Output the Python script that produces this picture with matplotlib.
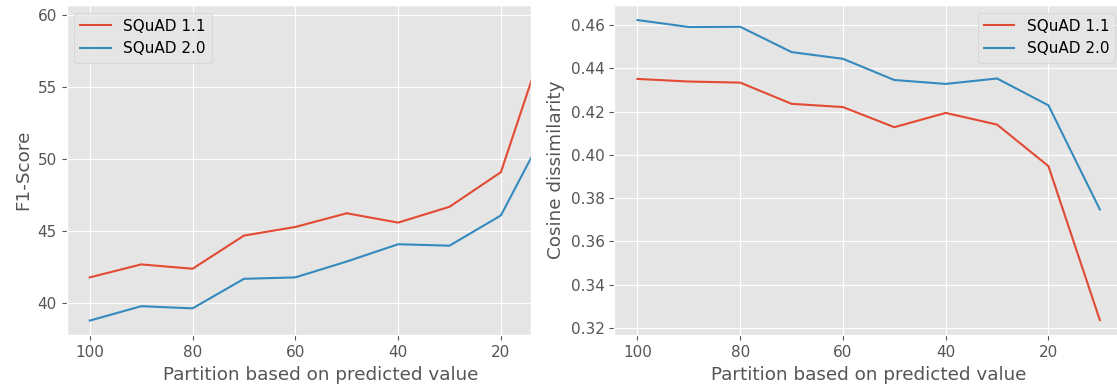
import numpy as np
import matplotlib
matplotlib.use("Agg")
import matplotlib.pyplot as plt

plt.style.use("ggplot")
plt.rcParams["font.size"] = 11

partition = [100, 90, 80, 70, 60, 50, 40, 30, 20, 10]

f1_squad11 = [41.8, 42.7, 42.4, 44.7, 45.3, 46.25, 45.6, 46.7, 49.1, 59.8]
f1_squad20 = [38.8, 39.8, 39.65, 41.7, 41.8, 42.9, 44.1, 44.0, 46.1, 52.9]

cos_squad11 = [0.4351, 0.4339, 0.4334, 0.4236, 0.4221, 0.4128, 0.4194, 0.4140, 0.3948, 0.3237]
cos_squad20 = [0.4623, 0.4591, 0.4592, 0.4475, 0.4444, 0.4346, 0.4328, 0.4353, 0.4229, 0.3748]

labels = ["SQuAD 1.1", "SQuAD 2.0"]

fig = plt.figure(figsize=(11.17, 3.9), dpi=100)

# left panel is cut off on its right side in the reference
ax1 = fig.add_axes([0.0597, 0.141, 0.4154, 0.846])
ax1.plot(partition, f1_squad11, label=labels[0])
ax1.plot(partition, f1_squad20, label=labels[1])
ax1.set_xlim(104.5, 14.2)
ax1.set_ylim(37.8, 60.7)
ax1.set_ylabel("F1-Score")
ax1.set_xlabel("Partition based on predicted value")
ax1.xaxis.set_label_coords(0.548, -0.095)
ax1.legend(loc="upper left")

# right panel runs past the right edge of the image
ax2 = fig.add_axes([0.550, 0.141, 0.4553, 0.846])
ax2.plot(partition, cos_squad11, label=labels[0])
ax2.plot(partition, cos_squad20, label=labels[1])
ax2.invert_xaxis()
ax2.set_ylabel("Cosine dissimilarity")
ax2.set_xlabel("Partition based on predicted value")
ax2.xaxis.set_label_coords(0.5, -0.095)
ax2.legend(loc="upper right")

fig.savefig("out.png", dpi=100)
